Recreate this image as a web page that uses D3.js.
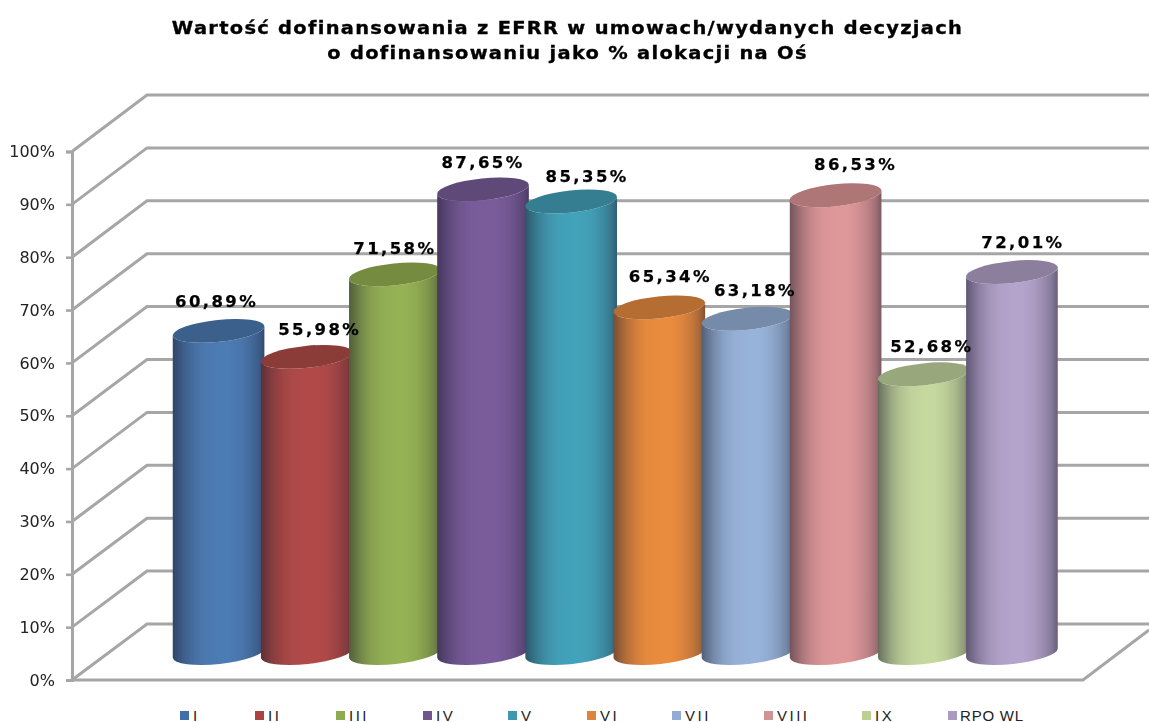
<!DOCTYPE html>
<html><head><meta charset="utf-8">
<script src="https://cdn.jsdelivr.net/npm/d3@7/dist/d3.min.js"></script>
<style>html,body{margin:0;padding:0;background:#fff}svg{display:block}</style>
</head><body><div id="c"></div>
<script>
const categories=["I","II","III","IV","V","VI","VII","VIII","IX","RPO WL"];
const values=[60.89,55.98,71.58,87.65,85.35,65.34,63.18,86.53,52.68,72.01];
const colors=["#4c7bb4","#b24a48","#95b254","#7a5c9b","#43a2ba","#ea8c3e","#98b3da","#df9899","#c5d89e","#b4a3cb"];
const legendColors=["#3f6fa8","#a94442","#8faa50","#70558f","#3f98b0","#dd853c","#94abd3","#d09494","#bcd093","#a99bc2"];
const yTicks=[0,10,20,30,40,50,60,70,80,90,100];
const titleLines=["Wartość dofinansowania z EFRR w umowach/wydanych decyzjach","o dofinansowaniu jako % alokacji na Oś"];
const labelShift=[[-1,-1],[14,1],[1,3],[1,2],[17,4],[12,-2],[9,0],[21,-2],[9,1],[12,-1]];
const legendX=[180,255,336,423,508,587,672,764,862,948];

const W=1149,H=722;
const svg=d3.select("#c").append("svg").attr("width",W).attr("height",H);
const defs=svg.append("defs");
const blur=defs.append("filter").attr("id","soft").attr("x","-5%").attr("y","-5%").attr("width","110%").attr("height","110%");
blur.append("feGaussianBlur").attr("stdDeviation",0.5);
const tblur=defs.append("filter").attr("id","tsoft").attr("x","-5%").attr("y","-20%").attr("width","110%").attr("height","140%");
tblur.append("feGaussianBlur").attr("stdDeviation",0.3);

const front=d3.scaleLinear().domain([0,100]).range([680,151.5]);
const back=d3.scaleLinear().domain([0,100]).range([624,95]);
const cyl=d3.scaleLinear().domain([0,100]).range([653,124]);
const xBand=d3.scaleBand().domain(categories).range([173.5,1055]).padding(0);
const fmtLocale=d3.formatLocale({decimal:",",thousands:" ",grouping:[3],currency:["",""]});
const fmt=v=>fmtLocale.format(".2f")(v)+"%";

const gray="#a6a6a6";
const plot=svg.append("g").attr("filter","url(#soft)");
const wall=plot.append("g");
const wallX0=72,wallX1=147,rightX=1149;
wall.selectAll("polyline.grid").data(yTicks).join("polyline").attr("class","grid")
  .attr("points",d=>`${wallX0},${front(d)} ${wallX1},${back(d)} ${rightX},${back(d)}`)
  .attr("fill","none").attr("stroke",gray).attr("stroke-width",3);
wall.append("polyline").attr("points",`${wallX0},${front(0)} 1083,${front(0)} 1149,${front(0)-50}`)
  .attr("fill","none").attr("stroke",gray).attr("stroke-width",3);
const axis=d3.axisLeft(front).tickValues(yTicks).tickSize(6).tickPadding(11).tickFormat(d=>d+"%");
const ag=wall.append("g").attr("transform",`translate(${wallX0},0)`).call(axis);
ag.selectAll("path.domain").attr("stroke",gray).attr("stroke-width",3);
ag.selectAll(".tick line").attr("stroke",gray).attr("stroke-width",2.6);
ag.selectAll("text").attr("font-family","'DejaVu Sans'").attr("font-size",16).attr("fill","#222");

const tilt=-6, rad=Math.PI/180;
const ry=11;
colors.forEach((c,i)=>{
  const g=defs.append("linearGradient").attr("id","g"+i).attr("x1",0).attr("x2",1).attr("y1",0).attr("y2",0);
  const mix=t=>d3.interpolateRgb(c,"#1a1a2a")(t);
  [[0,.55],[.06,.42],[.14,.26],[.24,.12],[.36,.03],[.5,0],[.62,0],[.74,.06],[.84,.16],[.93,.3],[1,.5]].forEach(([o,t])=>
    g.append("stop").attr("offset",o).attr("stop-color",mix(t)));
});
const cg=plot.append("g");
const bars=cg.selectAll("g.bar").data(categories.map((c,i)=>({c,i,v:values[i]}))).join("g").attr("class","bar");
const rxOf=()=>xBand.bandwidth()/2+2;
function sidePath(d){
  const rx=rxOf(),cx=xBand(d.c)+xBand.bandwidth()/2+1;
  const dx=rx*Math.cos(tilt*rad),dy=rx*Math.sin(tilt*rad);
  const yt=cyl(d.v),yb=cyl(0);
  return `M${cx-dx},${yt-dy} L${cx-dx},${yb-dy} A${rx},${ry} ${tilt} 0 0 ${cx+dx},${yb+dy} L${cx+dx},${yt+dy} A${rx},${ry} ${tilt} 0 1 ${cx-dx},${yt-dy} Z`;
}
bars.append("path").attr("d",sidePath).attr("fill",d=>`url(#g${d.i})`);
bars.append("ellipse")
  .attr("cx",0).attr("cy",0).attr("rx",rxOf()).attr("ry",ry)
  .attr("transform",d=>`translate(${xBand(d.c)+xBand.bandwidth()/2+1},${cyl(d.v)}) rotate(${tilt})`)
  .attr("fill",d=>d3.color(colors[d.i]).darker(0.7));

svg.append("g").attr("filter","url(#tsoft)").selectAll("text").data(categories.map((c,i)=>({c,i,v:values[i]}))).join("text")
  .attr("x",d=>xBand(d.c)+xBand.bandwidth()/2+labelShift[d.i][0])
  .attr("y",d=>cyl(d.v)-23+labelShift[d.i][1])
  .attr("text-anchor","middle").attr("font-family","'DejaVu Sans'").attr("font-weight","bold")
  .attr("font-size",16.5).attr("letter-spacing",2.4).attr("fill","#000")
  .attr("stroke","#000").attr("stroke-width",0.25)
  .text(d=>fmt(d.v));

svg.append("g").attr("filter","url(#tsoft)").selectAll("text").data(titleLines).join("text")
  .attr("text-anchor","middle").attr("font-family","'DejaVu Sans'").attr("font-weight","bold")
  .attr("font-size",18).attr("letter-spacing",1.2)
  .attr("transform",(d,i)=>`translate(567.5,${34+i*25}) scale(1.08,1)`)
  .attr("fill","#000").attr("stroke","#000").attr("stroke-width",0.35).text(d=>d);

const lg=svg.append("g").selectAll("g").data(categories).join("g")
  .attr("transform",(d,i)=>`translate(${legendX[i]},0)`);
lg.append("rect").attr("x",0).attr("y",711).attr("width",9).attr("height",9).attr("fill",(d,i)=>legendColors[i]);
lg.append("text").attr("x",(d,i)=>i<9?13:12).attr("y",720.5).attr("font-family","'Liberation Sans'").attr("font-size",15)
  .attr("letter-spacing",(d,i)=>i<9?2.5:0.8).attr("fill","#222").text(d=>d);
</script></body></html>
